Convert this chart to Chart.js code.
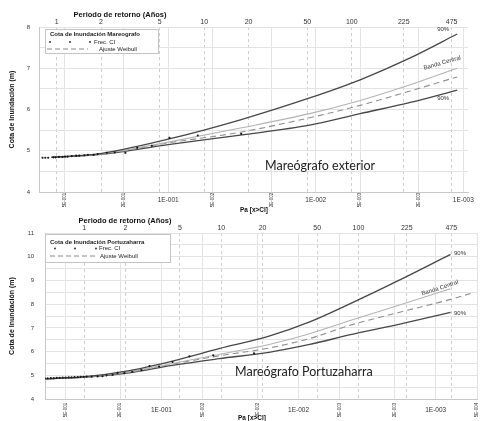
<!DOCTYPE html>
<html>
<head>
<meta charset="utf-8">
<script src="https://cdn.jsdelivr.net/npm/chart.js@4.4.1/dist/chart.umd.min.js"></script>
<style>
  body { margin: 0; background: #fff; width: 481px; height: 421px; overflow: hidden; position: relative; }
  canvas { position: absolute; left: 0; }
</style>
</head>
<body>
<canvas id="chartTop" width="481" height="216" style="top:0px"></canvas>
<canvas id="chartBottom" width="481" height="209" style="top:212px"></canvas>
<script>
// === DATEN ===
// Periodo de retorno (eje superior) y Pa (eje inferior)
const retornoTicks = [1, 2, 5, 10, 20, 50, 100, 225, 475];
const paTicksTop = [0.5, 0.2, 0.1, 0.05, 0.02, 0.01, 0.005, 0.002, 0.001];
const paLabelsTop = ['5E-001', '2E-001', '1E-001', '5E-002', '2E-002', '1E-002', '5E-003', '2E-003', '1E-003'];
const paTicksBottom = [0.5, 0.2, 0.1, 0.05, 0.02, 0.01, 0.005, 0.002, 0.001, 0.0005];
const paLabelsBottom = ['5E-001', '2E-001', '1E-001', '5E-002', '2E-002', '1E-002', '5E-003', '2E-003', '1E-003', '5E-004'];

// Mareógrafo exterior
const extCurvePa = [0.617, 0.288, 0.1, 0.0324, 0.011, 0.005, 0.00229, 0.0011];
const extUpper = [4.84, 4.93, 5.28, 5.75, 6.28, 6.72, 7.25, 7.83];
const extCentral = [4.84, 4.92, 5.21, 5.55, 5.9, 6.22, 6.6, 7.0];
const extWeibull = [4.84, 4.91, 5.19, 5.45, 5.8, 6.1, 6.45, 6.79];
const extLower = [4.84, 4.91, 5.15, 5.38, 5.62, 5.9, 6.17, 6.47];
const extFrecPa = [0.71, 0.68, 0.65, 0.60, 0.58, 0.55, 0.52, 0.50, 0.48, 0.45, 0.42, 0.40,
                   0.37, 0.35, 0.32, 0.30, 0.26, 0.23, 0.195, 0.162, 0.129, 0.098, 0.063, 0.032];
const extFrec = [4.83, 4.83, 4.83, 4.84, 4.84, 4.85, 4.85, 4.86, 4.86, 4.87, 4.88, 4.88,
                 4.89, 4.9, 4.9, 4.92, 4.95, 4.96, 4.95, 5.07, 5.12, 5.31, 5.37, 5.41];

// Mareógrafo Portuzaharra
const portCurvePa = [0.71, 0.376, 0.171, 0.0832, 0.038, 0.0164, 0.0083, 0.00427, 0.00186, 0.00078, 0.000556];
const portUpper = [4.85, 4.93, 5.2, 5.6, 6.12, 6.65, 7.25, 8.0, 9.0, 10.1, null];
const portCentral = [4.85, 4.92, 5.15, 5.5, 5.88, 6.3, 6.75, 7.3, 7.95, 8.65, null];
const portWeibull = [4.85, 4.92, 5.13, 5.47, 5.82, 6.15, 6.55, 7.1, 7.65, 8.2, 8.45];
const portLower = [4.85, 4.91, 5.1, 5.42, 5.7, 5.97, 6.3, 6.7, 7.15, 7.65, null];
const portFrecPa = [0.71, 0.675, 0.64, 0.61, 0.58, 0.552, 0.525, 0.499, 0.474, 0.452, 0.43, 0.408,
                    0.388, 0.369, 0.351, 0.323, 0.292, 0.269, 0.251, 0.227, 0.209, 0.186, 0.163,
                    0.14, 0.122, 0.104, 0.083, 0.0625, 0.0419, 0.0211];
const portFrec = [4.87, 4.87, 4.88, 4.88, 4.89, 4.89, 4.9, 4.9, 4.91, 4.91, 4.92, 4.92,
                  4.93, 4.93, 4.94, 4.94, 4.95, 4.96, 5.0, 5.02, 5.1, 5.09, 5.15,
                  5.22, 5.39, 5.37, 5.56, 5.8, 5.84, 5.92];

const FONT = '"Liberation Sans", Arial, sans-serif';

// === HILFSFUNKTIONEN ===
const pairs = (xs, ys) => xs.map((x, i) => ({ x, y: ys[i] }));

// Texte, Legende und Achsenbeschriftungen zeichnen
const decorPlugin = {
    id: 'decor',
    afterDraw(chart, args, o) {
        const ctx = chart.ctx;
        const area = chart.chartArea;
        const xs = chart.scales.x;
        const ys = chart.scales.y;
        ctx.save();
        ctx.fillStyle = '#333';

        // Pa-Beschriftungen unten
        o.paTicks.forEach((v, i) => {
            const px = xs.getPixelForValue(v);
            const lab = o.paLabels[i];
            if (lab.startsWith('1E')) {
                ctx.font = '6.5px ' + FONT;
                ctx.textAlign = 'center';
                ctx.textBaseline = 'middle';
                ctx.fillText(lab, px, area.bottom + o.tickOffset);
            } else {
                ctx.save();
                ctx.translate(px, area.bottom + o.tickOffset);
                ctx.rotate(-Math.PI / 2);
                ctx.font = '4.5px ' + FONT;
                ctx.textAlign = 'center';
                ctx.textBaseline = 'middle';
                ctx.fillText(lab, 0, 0);
                ctx.restore();
            }
        });

        // Achsentitel
        ctx.fillStyle = '#111';
        ctx.font = 'bold 6.5px ' + FONT;
        ctx.textAlign = 'center';
        ctx.textBaseline = 'middle';
        ctx.fillText('Pa [x>Cl]', o.paTitle[0], o.paTitle[1]);
        ctx.font = 'bold 7.5px ' + FONT;
        ctx.fillText('Periodo de retorno (Años)', o.tTitle[0], o.tTitle[1]);
        ctx.save();
        ctx.translate(12, (area.top + area.bottom) / 2);
        ctx.rotate(-Math.PI / 2);
        ctx.font = 'bold 7px ' + FONT;
        ctx.fillText('Cota de Inundación (m)', 0, 0);
        ctx.restore();

        // Legende
        const L = o.legend;
        ctx.fillStyle = '#fff';
        ctx.fillRect(L.x, L.y, L.w, L.h);
        ctx.strokeStyle = '#c4c4c4';
        ctx.lineWidth = 1;
        ctx.strokeRect(L.x + 0.5, L.y + 0.5, L.w, L.h);
        ctx.fillStyle = '#222';
        ctx.textAlign = 'left';
        ctx.font = 'bold 6px ' + FONT;
        ctx.fillText(L.title, L.x + 5, L.rows[0]);
        L.dots.forEach(dx => {
            ctx.beginPath();
            ctx.arc(dx, L.rows[1], 0.9, 0, Math.PI * 2);
            ctx.fill();
        });
        ctx.font = '6px ' + FONT;
        ctx.fillText('Frec. CI', L.textX[0], L.rows[1]);
        ctx.strokeStyle = '#888';
        ctx.setLineDash([5, 3]);
        ctx.beginPath();
        ctx.moveTo(L.dash[0], L.rows[2]);
        ctx.lineTo(L.dash[1], L.rows[2]);
        ctx.stroke();
        ctx.setLineDash([]);
        ctx.fillText('Ajuste Weibull', L.textX[1], L.rows[2]);

        // Kurvenbeschriftungen
        ctx.font = '6px ' + FONT;
        ctx.fillStyle = '#333';
        ctx.textAlign = 'center';
        o.pct.forEach(p => ctx.fillText('90%', xs.getPixelForValue(p[0]), ys.getPixelForValue(p[1])));
        ctx.save();
        ctx.translate(xs.getPixelForValue(o.banda[0]), ys.getPixelForValue(o.banda[1]));
        ctx.rotate(o.banda[2] * Math.PI / 180);
        ctx.fillText('Banda Central', 0, 0);
        ctx.restore();

        // Grosse Beschriftung
        ctx.font = '12.5px Lato, "Open Sans", sans-serif';
        ctx.fillStyle = '#222';
        ctx.textAlign = 'left';
        ctx.fillText(o.name, o.nameAt[0], o.nameAt[1]);
        ctx.restore();
    }
};

// Chart erstellen
function createChart(canvasId, s) {
    const lineStyle = { pointRadius: 0, tension: 0.4, cubicInterpolationMode: 'monotone', fill: false };
    return new Chart(document.getElementById(canvasId), {
        type: 'line',
        data: {
            datasets: [
                { data: pairs(s.frecPa, s.frec), showLine: false, pointRadius: 1.1,
                  pointBackgroundColor: '#1a1a1a', pointBorderWidth: 0 },
                { data: pairs(s.curvePa, s.upper), borderColor: '#474747', borderWidth: 1.3, ...lineStyle },
                { data: pairs(s.curvePa, s.central), borderColor: '#b3b3b3', borderWidth: 1.1, ...lineStyle },
                { data: pairs(s.curvePa, s.weibull), borderColor: '#8f8f8f', borderWidth: 1.1,
                  borderDash: [6, 4], ...lineStyle },
                { data: pairs(s.curvePa, s.lower), borderColor: '#474747', borderWidth: 1.3, ...lineStyle }
            ]
        },
        options: {
            responsive: false,
            animation: false,
            devicePixelRatio: 1,
            layout: { padding: { left: 0, right: s.padRight, top: 0, bottom: 0 } },
            plugins: {
                legend: { display: false },
                tooltip: { enabled: false },
                decor: s.decor
            },
            scales: {
                x: {
                    type: 'logarithmic', position: 'bottom', reverse: true,
                    min: s.paMin, max: s.paMax,
                    afterBuildTicks: ax => { ax.ticks = s.paTicks.map(v => ({ value: v })); },
                    afterFit: ax => { ax.height = s.xHeight; },
                    ticks: { display: false },
                    grid: { color: '#e3e3e3', lineWidth: 1, drawTicks: false },
                    border: { color: '#c8c8c8' }
                },
                x2: {
                    type: 'logarithmic', position: 'top',
                    min: s.K / s.paMax, max: s.K / s.paMin,
                    afterBuildTicks: ax => { ax.ticks = retornoTicks.map(v => ({ value: v })); },
                    afterFit: ax => { ax.height = s.topHeight; },
                    ticks: {
                        callback: v => String(v), autoSkip: false, maxRotation: 0, padding: 1,
                        color: '#333', font: { family: FONT, size: 7 }
                    },
                    grid: { color: '#cdcdcd', lineWidth: 1, drawTicks: false },
                    border: { display: false, dash: [3, 3] }
                },
                y: {
                    min: s.yMin, max: s.yMax,
                    afterFit: ax => { ax.width = s.yWidth; },
                    ticks: {
                        stepSize: 0.5, padding: s.yPad, color: '#333',
                        font: { family: FONT, size: 6 },
                        callback: v => Number.isInteger(v) ? String(v) : ''
                    },
                    grid: { color: '#e3e3e3', drawTicks: false },
                    border: { color: '#c8c8c8' }
                }
            }
        },
        plugins: [decorPlugin]
    });
}

createChart('chartTop', {
    curvePa: extCurvePa, upper: extUpper, central: extCentral, weibull: extWeibull, lower: extLower,
    frecPa: extFrecPa, frec: extFrec,
    paMin: 0.00093, paMax: 0.75, K: 0.57, yMin: 4, yMax: 8,
    paTicks: paTicksTop, padRight: 13, xHeight: 24, topHeight: 27, yWidth: 39, yPad: 9,
    decor: {
        paTicks: paTicksTop, paLabels: paLabelsTop, tickOffset: 8,
        paTitle: [254, 210], tTitle: [120, 15],
        legend: { x: 45, y: 29, w: 113, h: 24, title: 'Cota de Inundación Mareografo',
                  rows: [34.5, 42, 49], dots: [50, 70, 90], dash: [47, 88], textX: [94, 99] },
        pct: [[0.00137, 7.95], [0.00137, 6.28]],
        banda: [0.00139, 7.13, -16],
        name: 'Mareógrafo exterior', nameAt: [265, 166]
    }
});

createChart('chartBottom', {
    curvePa: portCurvePa, upper: portUpper, central: portCentral, weibull: portWeibull, lower: portLower,
    frecPa: portFrecPa, frec: portFrec,
    paMin: 0.0005, paMax: 0.706, K: 0.366, yMin: 4, yMax: 11,
    paTicks: paTicksBottom, padRight: 2, xHeight: 22, topHeight: 21, yWidth: 45, yPad: 11,
    decor: {
        paTicks: paTicksBottom, paLabels: paLabelsBottom, tickOffset: 11,
        paTitle: [252, 206], tTitle: [125, 9],
        legend: { x: 45, y: 22, w: 125, h: 28, title: 'Cota de Inundación Portuzaharra',
                  rows: [30, 36.5, 44], dots: [55, 75, 96], dash: [50, 95], textX: [99, 100] },
        pct: [[0.000665, 10.16], [0.000665, 7.63]],
        banda: [0.00093, 8.68, -18],
        name: 'Mareógrafo Portuzaharra', nameAt: [235, 160]
    }
});
</script>
</body>
</html>
